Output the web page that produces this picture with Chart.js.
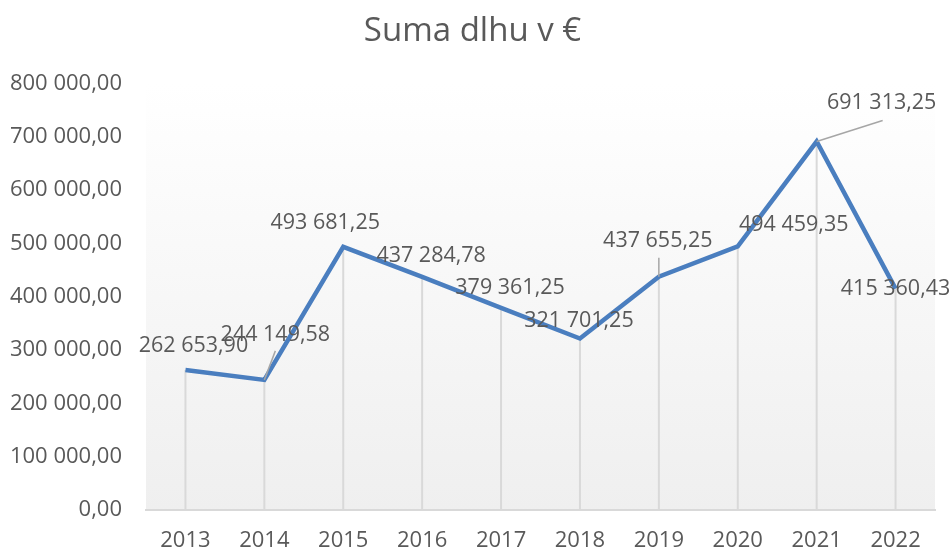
<!DOCTYPE html>
<html>
<head>
<meta charset="utf-8">
<script src="https://cdn.jsdelivr.net/npm/chart.js@4"></script>
<style>
  html, body { margin: 0; padding: 0; background: #ffffff; }
  #wrap { width: 951px; height: 550px; }
</style>
</head>
<body>
<div id="wrap"><canvas id="debtChart"></canvas></div>
<script>
"use strict";

const YEARS  = ["2013", "2014", "2015", "2016", "2017", "2018", "2019", "2020", "2021", "2022"];
const DEBT   = [262653.90, 244149.58, 493681.25, 437284.78, 379361.25, 321701.25, 437655.25, 494459.35, 691313.25, 415360.43];
const Y_TICKS = [0, 100000, 200000, 300000, 400000, 500000, 600000, 700000, 800000];

// label placement (pixel offsets from the point), like the manually moved labels in Excel
const LABEL_OFFSETS = [[8, -24], [11, -45], [-18, -24], [9, -21], [9, -20], [-1, -18], [-1, -36], [56, -22], [65, -39], [0, 0]];
const LEADERS = { 1: [11, -29], 6: [0, -19], 8: [66, -21] };

const FONT = "'Open Sans', 'Noto Sans', sans-serif";
const TEXT = "#595959";

function fmt(v) {
  const [int, dec] = v.toFixed(2).split(".");
  return int.replace(/\B(?=(\d{3})+(?!\d))/g, " ") + "," + dec;
}

const plotBackground = {
  id: "plotBackground",
  beforeDraw(chart) {
    const { ctx, chartArea: a } = chart;
    const g = ctx.createLinearGradient(0, a.top, 0, a.bottom);
    g.addColorStop(0, "#ffffff");
    g.addColorStop(1, "#efefef");
    ctx.save();
    ctx.fillStyle = g;
    ctx.fillRect(a.left, a.top, a.right - a.left, a.bottom - a.top);
    ctx.restore();
  },
};

const dropLines = {
  id: "dropLines",
  beforeDatasetsDraw(chart) {
    const { ctx, chartArea: a } = chart;
    const pts = chart.getDatasetMeta(0).data;
    ctx.save();
    ctx.strokeStyle = "#d9d9d9";
    ctx.lineWidth = 2;
    pts.forEach((p) => {
      ctx.beginPath();
      ctx.moveTo(p.x, p.y);
      ctx.lineTo(p.x, a.bottom);
      ctx.stroke();
    });
    ctx.restore();
  },
};

const valueLabels = {
  id: "valueLabels",
  afterDatasetsDraw(chart) {
    const { ctx } = chart;
    const pts = chart.getDatasetMeta(0).data;
    ctx.save();
    ctx.strokeStyle = "#a6a6a6";
    ctx.lineWidth = 1.5;
    Object.entries(LEADERS).forEach(([i, [dx, dy]]) => {
      const p = pts[i];
      ctx.beginPath();
      ctx.moveTo(p.x, p.y);
      ctx.lineTo(p.x + dx, p.y + dy);
      ctx.stroke();
    });
    ctx.fillStyle = TEXT;
    ctx.font = "21.5px " + FONT;
    ctx.textAlign = "center";
    ctx.textBaseline = "middle";
    pts.forEach((p, i) => {
      const [dx, dy] = LABEL_OFFSETS[i];
      ctx.fillText(fmt(DEBT[i]), p.x + dx, p.y + dy);
    });
    ctx.restore();
  },
};

new Chart(document.getElementById("debtChart"), {
  type: "line",
  data: {
    labels: YEARS,
    datasets: [{
      label: "Suma dlhu v €",
      data: DEBT,
      borderColor: "#4a7ebf",
      borderWidth: 4.5,
      pointRadius: 0,
      tension: 0,
      fill: false,
    }],
  },
  options: {
    responsive: true,
    maintainAspectRatio: false,
    animation: false,
    layout: { padding: { left: 10, right: 16, top: 12, bottom: 0 } },
    plugins: {
      legend: { display: false },
      tooltip: { enabled: false },
      title: {
        display: true,
        text: "Suma dlhu v €",
        color: TEXT,
        font: { family: FONT, size: 33, weight: "normal" },
        padding: { top: 0, bottom: 32 },
      },
    },
    scales: {
      x: {
        offset: true,
        afterFit: (s) => { s.height = 40; },
        grid: { display: false },
        border: { display: true, color: "#d9d9d9", width: 2 },
        ticks: { color: TEXT, font: { family: FONT, size: 22 }, padding: 10 },
      },
      y: {
        min: 0,
        max: 800000,
        afterBuildTicks: (s) => { s.ticks = Y_TICKS.map((v) => ({ value: v })); },
        afterFit: (s) => { s.width = 136; },
        grid: { display: false, drawTicks: false },
        border: { display: false },
        ticks: {
          color: TEXT,
          font: { family: FONT, size: 22 },
          padding: 24,
          callback: (v) => fmt(v),
        },
      },
    },
  },
  plugins: [plotBackground, dropLines, valueLabels],
});
</script>
</body>
</html>
